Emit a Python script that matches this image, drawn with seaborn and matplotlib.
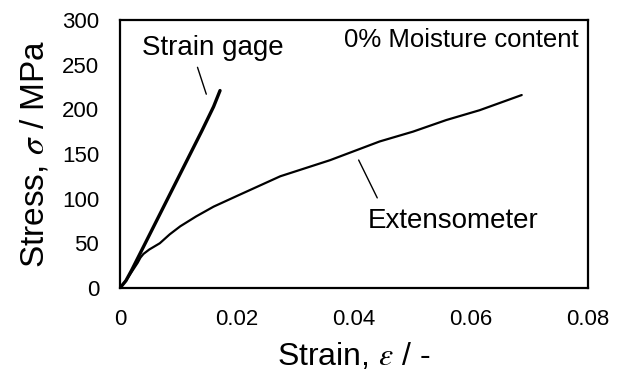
import matplotlib
matplotlib.use("Agg")
import matplotlib.pyplot as plt
import seaborn as sns
import pandas as pd

# strain gage curve
gage_strain = [0.0, 0.001, 0.002, 0.003, 0.004, 0.006, 0.008, 0.010, 0.012, 0.014, 0.016, 0.0171]
gage_stress = [0, 8, 20, 33, 46, 72, 98, 124, 150, 176, 203, 221]

# extensometer curve
ext_strain = [0.0, 0.001, 0.002, 0.003, 0.0035, 0.004, 0.005, 0.0068, 0.0085, 0.0103, 0.013,
              0.016, 0.020, 0.0274, 0.0359, 0.0444, 0.0501, 0.0558, 0.0615, 0.0687]
ext_stress = [0, 8, 18, 28, 34, 38, 43, 50, 60, 69, 80,
              91, 103, 125, 143, 164, 175, 188, 199, 216]

xticks = [0, 0.02, 0.04, 0.06, 0.08]
xtick_labels = ["0", "0.02", "0.04", "0.06", "0.08"]
yticks = [0, 50, 100, 150, 200, 250, 300]

gage = pd.DataFrame({"strain": gage_strain, "stress": gage_stress})
ext = pd.DataFrame({"strain": ext_strain, "stress": ext_stress})

sns.set_style("white")
plt.rcParams["font.family"] = ["Liberation Sans", "DejaVu Sans"]
plt.rcParams["mathtext.fontset"] = "stix"
plt.rcParams["text.color"] = "black"
plt.rcParams["axes.labelcolor"] = "black"

fig = plt.figure(figsize=(6.22, 3.71), dpi=100)
ax = fig.add_axes([0.193, 0.224, 0.752, 0.722])

sns.lineplot(data=gage, x="strain", y="stress", color="black", lw=2.4, ax=ax)
sns.lineplot(data=ext, x="strain", y="stress", color="black", lw=1.6, ax=ax)

ax.set_xlim(0, 0.08)
ax.set_ylim(0, 300)
ax.set_xticks(xticks)
ax.set_xticklabels(xtick_labels)
ax.set_yticks(yticks)
ax.tick_params(direction="in", length=5, width=1.3, labelsize=16, pad=15,
               colors="black")
for s in ax.spines.values():
    s.set_color("black")
    s.set_linewidth(1.6)

ax.set_xlabel("Strain, $\\varepsilon$ / -", fontsize=23, labelpad=8)
ax.set_ylabel("Stress, $\\sigma$ / MPa", fontsize=24, labelpad=8)

# labels with leader lines
ax.text(0.0038, 261, "Strain gage", fontsize=20)
ax.annotate("", xy=(0.0149, 214), xytext=(0.0131, 250),
            arrowprops=dict(arrowstyle="-", lw=1, color="black"))
ax.text(0.0424, 67, "Extensometer", fontsize=20)
ax.annotate("", xy=(0.0442, 98), xytext=(0.0406, 146),
            arrowprops=dict(arrowstyle="-", lw=1, color="black"))
ax.text(0.0785, 270, "0% Moisture content", fontsize=18.5, ha="right")

fig.savefig("out.png", dpi=100)
